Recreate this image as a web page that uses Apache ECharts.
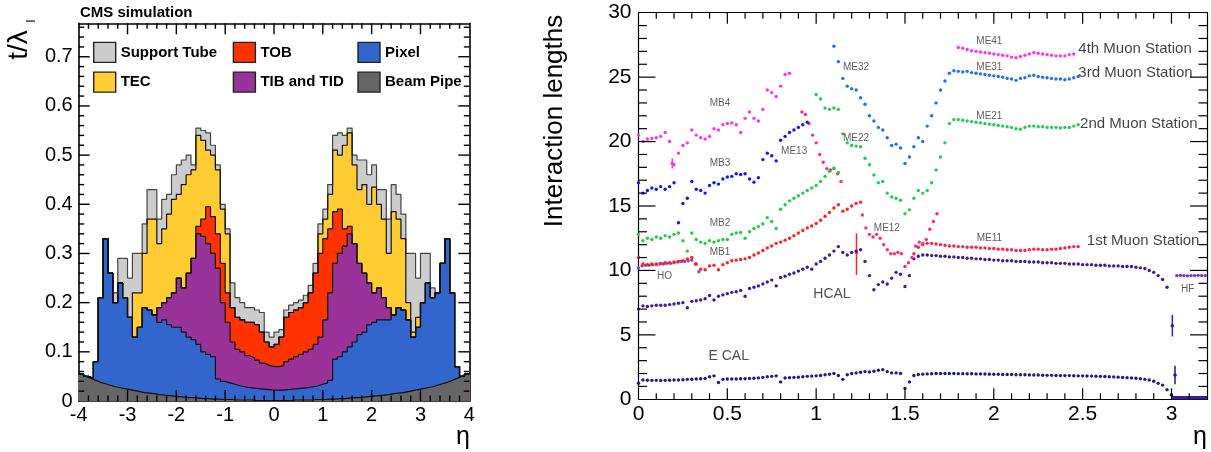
<!DOCTYPE html>
<html>
<head>
<meta charset="utf-8">
<script src="https://cdn.jsdelivr.net/npm/echarts@6/dist/echarts.min.js"></script>
<style>
  html, body { margin: 0; padding: 0; background: #fff; }
  #c { width: 1211px; height: 452px; }
</style>
</head>
<body>
<div id="c"></div>
<script>
// ---------------------------------------------------------------
// Left panel: tracker material budget t/lambda_I vs eta, stacked by
// subdetector. Bins of 0.1 in eta from -4 to 4 (80 bins).
// ---------------------------------------------------------------
const binLow = -4.0;
const binWidth = 0.1;

const beamPipe = [
  .055,.050,.046,.042,.038,.035,.032,.029,.027,.025,.023,.021,.019,.017,.016,.015,.013,.012,.011,.010,
  .009,.008,.007,.007,.006,.005,.005,.004,.004,.003,.003,.003,.002,.002,.002,.002,.001,.001,.001,.001,
  .001,.001,.001,.001,.002,.002,.002,.002,.003,.003,.003,.004,.004,.005,.005,.006,.007,.007,.008,.009,
  .010,.011,.012,.013,.015,.016,.017,.019,.021,.023,.025,.027,.029,.032,.035,.038,.042,.046,.050,.055
];
const pixel = [
  0,0,0,.038,.172,.295,.228,.171,.213,.185,.147,.109,.131,.173,.169,.160,.147,.153,.144,.140,
  .141,.132,.123,.118,.109,.095,.090,.086,.041,.037,.034,.031,.029,.027,.025,.024,.024,.023,.022,.021,
  .021,.021,.022,.023,.023,.024,.025,.027,.028,.031,.034,.038,.081,.085,.095,.104,.113,.128,.132,.146,
  .150,.154,.153,.152,.160,.174,.168,.146,.109,.127,.175,.213,.181,.188,.245,.292,.178,.024,0,0
];
const tibTid = [
  0,0,0,0,0,0,0,0,0,0,0,0,0,0,0,0,.030,.035,.055,.070,
  .100,.090,.130,.165,.225,.235,.225,.210,.225,.160,.123,.086,.074,.071,.065,.062,.058,.053,.050,.048,
  .048,.050,.057,.061,.065,.069,.073,.076,.084,.096,.128,.178,.195,.210,.215,.230,.200,.145,.120,.085,
  .060,.065,.045,.025,0,0,0,0,0,0,0,0,0,0,0,0,0,0,0,0
];
const tob = [
  0,0,0,0,0,0,0,0,0,0,0,0,0,0,0,0,0,0,0,0,
  0,0,0,0,.015,.035,.075,.075,.070,.080,.060,.070,.065,.065,.068,.072,.072,.063,.047,.040,
  .045,.058,.090,.095,.095,.095,.100,.115,.145,.170,.165,.130,.105,.090,.035,.015,0,0,0,0,
  0,0,0,0,0,0,0,0,0,0,0,0,0,0,0,0,0,0,0,0
];
const tec = [
  0,0,0,0,0,0,0,0,0,0,0,.090,.070,.110,.185,.195,.130,.150,.170,.190,
  .170,.210,.200,.180,.185,.160,.115,.125,.130,.110,.120,0,0,0,0,0,0,0,0,0,
  0,0,0,0,0,0,0,0,0,.040,.040,.070,.125,.110,.170,.190,.160,.150,.180,.160,
  .215,.170,.160,.110,.210,.180,.145,.035,.010,.020,0,0,0,0,0,0,0,0,0,0
];
const supportTube = [
  0,0,0,0,0,0,0,.020,.050,.080,.080,.080,.080,.060,.060,.060,.050,.060,.040,.050,
  .060,.050,.040,.010,.015,.020,.035,.020,.010,.010,.010,.050,.040,.035,.030,.030,.030,.040,.020,.020,
  .025,.015,.015,.015,.015,.015,.015,.015,.020,.020,.020,.020,.030,.045,.020,.010,.020,.060,.050,.060,
  .045,.030,.060,.070,.055,.050,.050,.100,.160,.080,.100,.060,.020,0,0,0,0,0,0,0
];
const layerNames  = ['Beam Pipe', 'Pixel', 'TIB and TID', 'TOB', 'TEC', 'Support Tube'];
const layerValues = [beamPipe, pixel, tibTid, tob, tec, supportTube];
const layerFills  = ['#666666', '#3366cc', '#993399', '#ff3300', '#ffcc33', '#cccccc'];
const layerLines  = ['#111111', '#111111', '#111111', '#111111', '#111111', '#444444'];

// ---------------------------------------------------------------
// Right panel: interaction lengths vs eta (points every 0.025 in eta
// unless noted). Each curve: first eta + values.
// ---------------------------------------------------------------
const etaStep = 0.025;

const ecalStart = 0.0;
const ecalVals = [
  1.25,1.5,1.48,1.47,1.47,1.46,1.47,1.48,1.5,1.5,
  1.52,1.55,1.56,1.58,1.6,1.62,1.75,1.82,1.3,1.55,
  1.57,1.58,1.58,1.6,1.6,1.62,1.63,1.66,1.7,1.75,
  1.78,1.82,1.35,1.65,1.68,1.7,1.72,1.75,1.78,1.8,
  1.82,1.85,1.9,1.95,2.0,1.85,1.55,1.9,2.0,2.05,
  2.1,2.15,2.12,2.18,2.25,2.3,2.15,2.05,2.05,2.0,
  0.85,1.35,1.85,1.93,1.95,1.97,1.98,2.0,2.0,2.0,
  2.0,2.0,1.99,1.99,1.98,1.98,1.97,1.97,1.96,1.95,
  1.94,1.94,1.93,1.93,1.92,1.91,1.9,1.9,1.89,1.88,
  1.88,1.87,1.86,1.86,1.85,1.84,1.84,1.84,1.83,1.82,
  1.82,1.81,1.8,1.79,1.78,1.77,1.75,1.74,1.72,1.7,
  1.68,1.66,1.63,1.6,1.55,1.5,1.4,1.25,1.1,0.75,
  0.35
];
const ecalFwdStart = 3.0;
const ecalFwdVals = [0.12,0.12,0.12,0.12,0.12,0.12,0.12,0.12,0.12];

const hcalStart = 0.0;
const hcalVals = [
  7.0,7.25,7.2,7.25,7.3,7.3,7.3,7.35,7.4,7.45,
  7.5,7.1,7.6,7.65,7.7,7.8,8.05,7.7,8.0,8.1,
  8.2,8.3,8.35,8.45,8.0,8.6,8.7,8.8,8.95,9.1,
  9.25,8.8,9.45,9.55,9.7,9.8,9.95,10.1,10.25,10.1,
  10.5,10.7,10.95,11.2,11.5,11.85,11.4,11.2,11.4,11.5,
  11.6,10.7,9.6,8.5,8.9,9.1,8.95,9.4,9.85,9.7,
  8.75,9.6,10.9,11.1,11.2,11.2,11.15,11.15,11.1,11.1,
  11.05,11.05,11.0,11.0,10.95,10.95,10.9,10.9,10.85,10.85,
  10.8,10.8,10.75,10.75,10.75,10.7,10.7,10.7,10.65,10.65,
  10.65,10.6,10.6,10.6,10.55,10.55,10.55,10.5,10.5,10.5,
  10.45,10.45,10.45,10.4,10.4,10.4,10.35,10.35,10.35,10.3,
  10.3,10.3,10.25,10.2,10.15,10.0,9.85,9.6,9.3,8.7
];
// HF and HO: points every 0.02
const hfStart = 3.03;
const hfVals = [9.6,9.62,9.6,9.58,9.6,9.6,9.62,9.6,9.6];
const hoStart = 0.0;
const hoVals = [10.2,10.35,10.4,10.4,10.45,10.45,10.5,10.5,10.55,10.55,10.6,10.65,10.7,10.7,10.75,10.8,10.5,9.9];

const mb1Start = 0.0;
const mb1Vals = [
  11.0,10.5,10.45,10.5,10.5,10.55,10.6,10.6,10.65,10.7,
  10.75,10.9,11.0,10.5,10.1,10.05,10.35,10.4,10.05,10.45,
  10.6,10.75,10.8,10.85,10.9,11.0,11.2,11.35,11.55,11.75,
  11.9,12.1,12.2,12.35,12.5,12.7,12.9,13.1,13.3,13.45,
  13.65,13.9,14.2,14.5,14.85,15.1,14.6,14.75,15.0,15.2,
  15.3
];
const me11Start = 1.55;
const me11Vals = [
  11.3,11.8,12.0,12.1,12.1,12.05,12.0,11.95,11.9,11.9,
  11.85,11.85,11.8,11.8,11.8,11.75,11.75,11.7,11.7,11.65,
  11.65,11.6,11.6,11.55,11.55,11.55,11.6,11.65,11.65,11.6,
  11.6,11.65,11.65,11.7,11.75,11.8,11.85,11.85
];
// pink points every 0.02
const pinkAStart = 0.92;
const pinkAVals = [22.3,22.1,21.4,20.5,19.9,19.0,18.4,17.9,17.8,17.9,17.5,16.9];
const me12Start = 1.26;
const me12Vals = [14.3,13.3,12.8,12.6,12.8,12.5,12.0,11.6,11.3,11.3,11.4,11.3,10.3,10.6,11.0,11.9,12.2,12.1,12.4,13.2,13.8,14.4];

const mb2Start = 0.0;
const mb2Vals = [
  12.8,12.3,12.5,12.4,12.6,12.5,12.7,12.6,12.8,12.9,
  12.3,11.5,12.9,12.4,12.2,12.1,12.3,12.2,12.3,12.4,
  12.4,12.8,12.9,12.95,12.5,13.0,13.25,13.4,13.6,14.1,
  13.8,13.25,14.75,15.1,15.4,15.6,15.8,16.0,16.2,16.4,
  16.6,16.9,17.3,17.7,17.95,17.6
];
const me2Start = 1.0;
const me2Vals = [
  23.65,23.3,22.6,22.5,22.6,22.5,20.6,19.9,19.7,19.65,
  19.6,18.7,18.2,17.4,16.8,16.9,16.0,15.7,15.6,15.45,
  14.4,14.7,15.6,16.2,16.0,16.2,16.8,17.8,18.8,19.9,
  21.4,21.7,21.7,21.65,21.6,21.55,21.5,21.45,21.4,21.35,
  21.3,21.25,21.2,21.15,21.1,21.0,20.95,21.1,21.2,21.2,
  21.15,21.15,21.1,21.1,21.1,21.05,21.1,21.1,21.2,21.3
];
const mb3Start = 0.0;
const mb3Vals = [
  16.8,16.0,16.2,16.4,16.3,16.5,16.3,16.5,16.8,13.7,
  15.2,15.6,16.9,16.3,16.2,16.0,16.6,16.8,16.7,17.1,
  17.25,17.3,17.5,17.45,17.5,17.1,16.85,17.2,18.6,19.1,
  18.9,18.5,20.1,20.4,20.7,20.9,21.1,21.3,21.5
];
const me3Start = 1.1;
const me3Vals = [
  27.4,26.2,24.9,24.3,24.1,24.0,23.4,22.9,22.0,21.6,
  21.1,20.9,20.3,19.7,19.8,19.5,18.3,18.8,19.6,20.3,
  20.0,21.2,22.0,23.0,24.0,24.7,25.3,25.5,25.45,25.4,
  25.45,25.35,25.3,25.25,25.2,25.15,25.1,25.05,25.0,24.9,
  24.85,24.75,24.9,24.95,25.1,25.15,25.05,25.0,24.95,24.9,
  24.85,24.85,24.8,24.85,24.95,25.05
];
const mb4Start = 0.0;
const mb4Vals = [
  20.5,20.0,20.2,20.25,20.3,20.4,20.7,20.0,18.2,19.1,
  19.7,19.9,20.9,20.5,20.3,20.2,20.4,21.0,20.9,21.3,
  21.4,21.45,21.3,20.7,21.8,22.3,21.8,21.6,22.5,24.0,
  23.8,23.5,24.3,25.2,25.3
];
const me41Start = 1.8;
const me41Vals = [
  27.3,27.25,27.15,27.05,27.0,26.95,26.9,26.85,26.8,26.75,
  26.7,26.65,26.55,26.5,26.6,26.7,26.8,26.9,26.85,26.8,
  26.75,26.7,26.65,26.65,26.65,26.75,26.8
];
// single points with vertical error bars: [eta, value, low, high]
const errorPoints = [[1.227, 11.4, 9.65, 12.88], [3.005, 5.7, 4.87, 6.55], [3.02, 1.89, 1.17, 2.6], [0.19, 18.3, 17.9, 18.7]];
const errorColors = ['#ff2222', '#3b1c9e', '#1c1c8e', '#ff33ee'];

// text annotations: [text, eta, value]
const detectorLabels = [
  ['ME41', 1.975, 27.75], ['ME32', 1.224, 25.76], ['ME31', 1.975, 25.76], ['MB4', 0.459, 22.96],
  ['ME21', 1.975, 22.0], ['ME22', 1.224, 20.25], ['ME13', 0.876, 19.21], ['MB3', 0.459, 18.31],
  ['MB2', 0.459, 13.65], ['ME12', 1.398, 13.27], ['ME11', 1.975, 12.49], ['MB1', 0.459, 11.38],
  ['HO', 0.147, 9.57], ['HF', 3.091, 8.53]
];
const caloLabels = [['HCAL', 1.089, 8.17], ['E CAL', 0.508, 3.36]];
const stationLabels = [
  ['4th Muon Station', 2.473, 27.23], ['3rd Muon Station', 2.473, 25.34],
  ['2nd Muon Station', 2.483, 21.41], ['1st Muon Station', 2.521, 12.31]
];

// ---------------------------------------------------------------
const FONT = '"Liberation Sans", Arial, Helvetica, sans-serif';
const chart = echarts.init(document.getElementById('c'));
const onStep = (v, step) => Math.abs(v / step - Math.round(v / step)) < 1e-6;

// frame axis (line + labels); tick marks come from the frameTicks series
function frameAxis(gridIndex, pos, min, max, step, lw, label) {
  return {
    type: 'value', gridIndex, position: pos, min, max, interval: step,
    splitLine: { show: false },
    axisLine: { show: true, onZero: false, lineStyle: { color: '#000', width: lw } },
    axisTick: { show: false },
    axisLabel: label || { show: false }
  };
}
const xAxes = [
  frameAxis(0, 'bottom', -4, 4, 1, 1.6, {
    show: true, fontSize: 20, fontFamily: FONT, color: '#000', margin: 4,
    formatter: v => String(Math.round(v))
  }),
  frameAxis(0, 'top', -4, 4, 1, 1.6, null),
  frameAxis(1, 'bottom', 0, 3.2, 0.5, 1.2, {
    show: true, fontSize: 21, fontFamily: FONT, color: '#000', margin: 4,
    formatter: v => onStep(v, 0.5) ? String(Math.round(v * 2) / 2) : ''
  }),
  frameAxis(1, 'top', 0, 3.2, 0.5, 1.2, null)
];
const yAxes = [
  frameAxis(0, 'left', 0, 0.768, 0.1, 1.6, {
    show: true, fontSize: 20, fontFamily: FONT, color: '#000', margin: 6,
    formatter: v => onStep(v, 0.1) ? String(Math.round(v * 10) / 10) : ''
  }),
  frameAxis(0, 'right', 0, 0.768, 0.1, 1.6, null),
  frameAxis(1, 'left', 0, 30, 5, 1.2, {
    show: true, fontSize: 21, fontFamily: FONT, color: '#000', margin: 7,
    formatter: v => String(Math.round(v))
  }),
  frameAxis(1, 'right', 0, 30, 5, 1.2, null)
];
const LX = 0, LY = 0, RX = 2, RY = 2;

// ROOT-style tick marks pointing into the frame on all four sides,
// drawn above the data through the axes' own coordinate mapping.
function frameTicks(xIdx, yIdx, ax, ay, width) {
  const data = [];
  [[0, ax], [1, ay]].forEach(([dim, a]) => {
    const n = Math.floor((a.max - a.min) / a.minor + 1e-6);
    for (let i = 1; i <= n; i++) {
      const v = Math.round((a.min + i * a.minor) * 1e6) / 1e6;
      if (Math.abs(v - a.max) < 1e-9) continue;
      data.push([dim, v, i % a.per === 0 ? 1 : 0]);
    }
  });
  return {
    type: 'custom', xAxisIndex: xIdx, yAxisIndex: yIdx, silent: true, z: 10, data,
    renderItem: (params, api) => {
      const dim = api.value(0), v = api.value(1), major = api.value(2) === 1;
      const style = { stroke: '#000', lineWidth: width };
      if (dim === 0) {
        const len = major ? ax.majLen : ax.minLen;
        const b = api.coord([v, ay.min]), t = api.coord([v, ay.max]);
        return { type: 'group', children: [
          { type: 'line', shape: { x1: b[0], y1: b[1], x2: b[0], y2: b[1] - len }, style },
          { type: 'line', shape: { x1: t[0], y1: t[1], x2: t[0], y2: t[1] + len }, style }
        ] };
      }
      const len = major ? ay.majLen : ay.minLen;
      const l = api.coord([ax.min, v]), r = api.coord([ax.max, v]);
      return { type: 'group', children: [
        { type: 'line', shape: { x1: l[0], y1: l[1], x2: l[0] + len, y2: l[1] }, style },
        { type: 'line', shape: { x1: r[0], y1: r[1], x2: r[0] - len, y2: r[1] }, style }
      ] };
    }
  };
}

// ---- stacked histogram series (drawn from the top layer down) ----
const nBins = beamPipe.length;
const edgeAt = i => Math.round((binLow + i * binWidth) * 1000) / 1000;
const cumulative = [];
let running = new Array(nBins).fill(0);
layerValues.forEach(vals => {
  running = running.map((r, i) => r + vals[i]);
  cumulative.push(running.slice());
});

const series = [];
for (let k = layerNames.length - 1; k >= 1; k--) {
  const top = cumulative[k];
  const data = top.map((v, i) => [edgeAt(i), v]);
  data.push([edgeAt(nBins), top[nBins - 1]]);
  series.push({
    name: layerNames[k], type: 'line', xAxisIndex: LX, yAxisIndex: LY,
    step: 'end', symbol: 'none', silent: true, data,
    itemStyle: { color: layerFills[k] },
    lineStyle: { color: layerLines[k], width: 1.2 },
    areaStyle: { color: layerFills[k], opacity: 1 }
  });
}
// beam pipe: smooth profile through bin centres
{
  const data = [[edgeAt(0), beamPipe[0]]];
  beamPipe.forEach((v, i) => data.push([Math.round((edgeAt(i) + binWidth / 2) * 1000) / 1000, v]));
  data.push([edgeAt(nBins), beamPipe[nBins - 1]]);
  series.push({
    name: 'Beam Pipe', type: 'line', xAxisIndex: LX, yAxisIndex: LY,
    symbol: 'none', silent: true, data,
    itemStyle: { color: layerFills[0] },
    lineStyle: { color: '#111', width: 1.2 },
    areaStyle: { color: layerFills[0], opacity: 1 }
  });
}
series.push(frameTicks(LX, LY,
  { min: -4, max: 4, minor: 0.2, per: 5, majLen: 11, minLen: 5.5 },
  { min: 0, max: 0.768, minor: 0.02, per: 5, majLen: 11, minLen: 5.5 }, 1.4));

// ---- interaction-length points ----
const points = (start, step, vals) => vals.map((v, i) => [Math.round((start + i * step) * 10000) / 10000, v]);
function dots(name, color, data, size) {
  series.push({
    name, type: 'scatter', xAxisIndex: RX, yAxisIndex: RY, silent: true,
    symbol: 'circle', symbolSize: size || 3.4, data,
    itemStyle: { color, opacity: 1 }
  });
}
dots('ECAL', '#1c1c8e', points(ecalStart, etaStep, ecalVals));
dots('HCAL', '#3b1c9e', points(hcalStart, etaStep, hcalVals));
dots('HF', '#7a2fc0', points(hfStart, 0.02, hfVals));
dots('HO', '#9a3cc8', points(hoStart, 0.02, hoVals));
dots('MB1', '#ff2222', points(mb1Start, etaStep, mb1Vals));
dots('ME11', '#ff2244', points(me11Start, etaStep, me11Vals));
dots('ME13 pink', '#ff2a8a', points(pinkAStart, 0.02, pinkAVals));
dots('ME12', '#ff2a7a', points(me12Start, 0.02, me12Vals));
dots('MB2', '#22cc44', points(mb2Start, etaStep, mb2Vals));
dots('ME2', '#22cc55', points(me2Start, etaStep, me2Vals));
dots('MB3', '#1414ff', points(mb3Start, etaStep, mb3Vals));
dots('ME3', '#1f6fff', points(me3Start, etaStep, me3Vals));
dots('MB4', '#ff33ee', points(mb4Start, etaStep, mb4Vals));
dots('ME41', '#ff33ee', points(me41Start, etaStep, me41Vals));
series.push({
  name: 'ECAL forward', type: 'line', xAxisIndex: RX, yAxisIndex: RY, silent: true,
  symbol: 'none', data: points(ecalFwdStart, etaStep, ecalFwdVals),
  lineStyle: { color: '#3a1ca0', width: 3.5 }
});
series.push({
  name: 'error bars', type: 'custom', xAxisIndex: RX, yAxisIndex: RY, silent: true,
  data: errorPoints.map((p, i) => ({ value: p, itemStyle: { color: errorColors[i] } })),
  renderItem: (params, api) => {
    const a = api.coord([api.value(0), api.value(2)]);
    const b = api.coord([api.value(0), api.value(3)]);
    const c = api.coord([api.value(0), api.value(1)]);
    const color = api.visual('color');
    return {
      type: 'group', children: [
        { type: 'line', shape: { x1: a[0], y1: a[1], x2: b[0], y2: b[1] }, style: { stroke: color, lineWidth: 1.5 } },
        { type: 'circle', shape: { cx: c[0], cy: c[1], r: 1.8 }, style: { fill: color } }
      ]
    };
  }
});
function textLabels(name, list, size, color, position) {
  series.push({
    name, type: 'scatter', xAxisIndex: RX, yAxisIndex: RY, silent: true,
    symbol: 'circle', symbolSize: 1, itemStyle: { color: 'transparent' }, z: 5,
    data: list.map(([t, x, y]) => ({ name: t, value: [x, y] })),
    label: { show: true, position, distance: 0, formatter: '{b}', fontSize: size, fontFamily: FONT, color }
  });
}
textLabels('detector labels', detectorLabels, 10, '#333', 'inside');
textLabels('calorimeter labels', caloLabels, 14, '#222', 'inside');
textLabels('station labels', stationLabels, 15, '#111', 'right');
series.push(frameTicks(RX, RY,
  { min: 0, max: 3.2, minor: 0.1, per: 5, majLen: 11, minLen: 6 },
  { min: 0, max: 30, minor: 1, per: 5, majLen: 17, minLen: 8.5 }, 1.2));

const legendText = { fontFamily: FONT, fontSize: 15, fontWeight: 'bold', color: '#000' };
const legendItem = name => {
  const k = layerNames.indexOf(name);
  return { name, itemStyle: { color: layerFills[k], borderColor: '#222', borderWidth: 1.4 } };
};
const legendBase = {
  orient: 'vertical', itemWidth: 22, itemHeight: 20, itemGap: 8.3, padding: 0,
  icon: 'rect', selectedMode: false, textStyle: legendText
};

chart.setOption({
  animation: false,
  backgroundColor: '#fff',
  grid: [
    { left: 78.7, top: 23.3, width: 390.6, height: 377.7 },
    { left: 638.5, top: 12.7, width: 568.5, height: 386.6 }
  ],
  xAxis: xAxes,
  yAxis: yAxes,
  legend: [
    Object.assign({}, legendBase, { left: 93, top: 41.7, data: [legendItem('Support Tube'), legendItem('TEC')] }),
    Object.assign({}, legendBase, { left: 232.7, top: 41.7, data: [legendItem('TOB'), legendItem('TIB and TID')] }),
    Object.assign({}, legendBase, { left: 357.3, top: 41.7, data: [legendItem('Pixel'), legendItem('Beam Pipe')] })
  ],
  graphic: [
    { type: 'text', x: 80, y: 12.5, silent: true,
      style: { text: 'CMS simulation', font: 'bold 15px ' + FONT, fill: '#000', verticalAlign: 'middle' } },
    { type: 'text', x: 19, y: 45, rotation: Math.PI / 2, silent: true,
      style: { text: 't/\u03bb', font: '28px ' + FONT, fill: '#000', align: 'center', verticalAlign: 'middle' } },
    { type: 'text', x: 32, y: 21, rotation: Math.PI / 2, silent: true,
      style: { text: 'I', font: '12px ' + FONT, fill: '#000', align: 'center', verticalAlign: 'middle' } },
    { type: 'text', x: 470, y: 437, silent: true,
      style: { text: '\u03b7', font: '25px ' + FONT, fill: '#000', align: 'right', verticalAlign: 'middle' } },
    { type: 'text', x: 1207, y: 437, silent: true,
      style: { text: '\u03b7', font: '25px ' + FONT, fill: '#000', align: 'right', verticalAlign: 'middle' } },
    { type: 'text', x: 555, y: 121, rotation: Math.PI / 2, silent: true,
      style: { text: 'Interaction lengths', font: '26px ' + FONT, fill: '#000', align: 'center', verticalAlign: 'middle' } }
  ],
  series
});
</script>
</body>
</html>
